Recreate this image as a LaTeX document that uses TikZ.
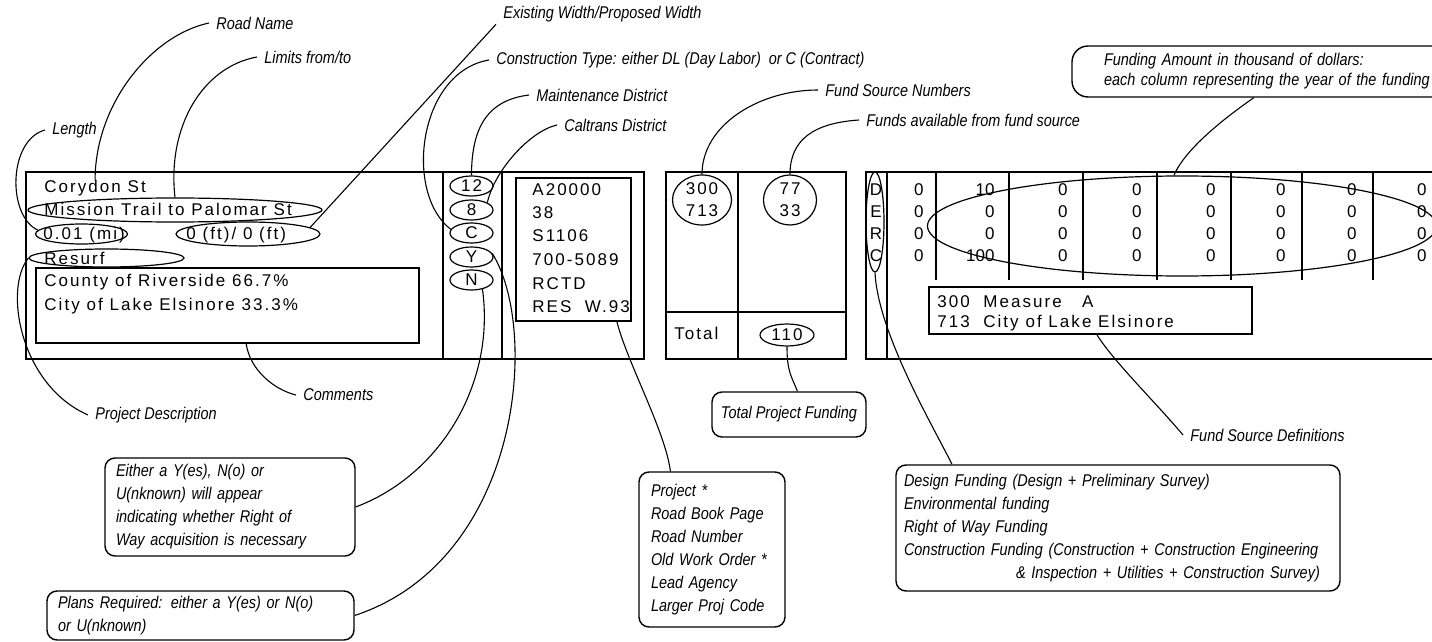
\documentclass[tikz,border=0pt]{standalone}
\usepackage{fontspec}
\setmainfont{Liberation Sans}
\newfontfamily\gridfont[LetterSpace=12]{Liberation Sans}
\newfontfamily\notefont[FakeStretch=0.85]{Liberation Sans}
\usepackage{tikz}
\usetikzlibrary{shapes.geometric}
\hyphenpenalty=10000
\exhyphenpenalty=10000

\tikzset{
  frame/.style={line width=0.75pt},
  leader/.style={line width=0.55pt},
  cell/.style={anchor=base west, inner sep=0pt, font=\gridfont\fontsize{8.5}{11}\selectfont},
  amount/.style={anchor=east, inner sep=0pt, font=\fontsize{8.5}{11}\selectfont},
  ring/.style={draw, ellipse, inner sep=0pt, line width=0.6pt, align=center, font=\gridfont\fontsize{8.5}{11}\selectfont},
  tag/.style={anchor=west, inner xsep=3.5pt, inner ysep=1pt, font=\notefont\itshape\fontsize{8.5}{10}\selectfont},
  note/.style={draw, rounded corners=5pt, line width=0.7pt, align=left, inner xsep=5.5pt, inner ysep=0pt, font=\notefont\itshape\fontsize{8.5}{11.5}\selectfont}
}

\begin{document}
\begin{tikzpicture}[x=0.5pt, y=-0.5pt]
\clip (0,0) rectangle (1432,642);

% Road record panel
\draw[frame] (26,172) rectangle (644,359);
\draw[frame] (443,172) -- (443,359) (502,172) -- (502,359);
\node[cell] (road) at (44,193) {Corydon St};
\node[cell] (limits) at (44,216) {Mission Trail to Palomar St};
\node[cell] (length) at (43,240) {0.01 (mi)};
\node[cell] (width) at (186,240) {0 (ft)/ 0 (ft)};
\node[cell] (desc) at (44,264) {Resurf};
\node[ring, minimum width=147pt, minimum height=12pt] (ring-limits) at (175,210) {};
\node[ring, minimum width=46pt, minimum height=10pt] (ring-length) at (81.5,234) {};
\node[ring, minimum width=72pt, minimum height=12pt] (ring-width) at (248,234) {};
\node[ring, minimum width=77.5pt, minimum height=9pt] (ring-desc) at (106.5,258) {};
% Comments box
\node[draw, frame, minimum width=191.5pt, minimum height=37.5pt, inner sep=0pt] (comments) at (227.5,305.5) {};
\node[cell] (share-a) at (44,286) {County of Riverside 66.7\%};
\node[cell] (share-b) at (44,310) {City of Lake Elsinore 33.3\%};

% District / type / right of way / plans column
\foreach \name/\val/\y in {12/12/186, 8/8/210, c/C/233, y/Y/257, n/N/280}
  \node[ring, minimum width=21.5pt, minimum height=10pt] (ring-\name) at (471.5,\y) {\val};

% Project numbers box
\node[draw, frame, minimum width=57.5pt, minimum height=71.5pt, inner sep=0pt] (ids) at (573.5,249.5) {};
\foreach \t/\y [count=\i] in {A20000/196, 38/219, S1106/242, 700-5089/266, RCTD/290, RES\ \ W.93/313}
  \node[cell] (id-\i) at (532,\y) {\t};

% Fund source panel
\draw[frame] (666,172) rectangle (846,359);
\draw[frame] (738,172) -- (738,359) (666,312) -- (846,312);
\node[ring, minimum width=29.5pt, minimum height=25pt] (ring-src) at (702,200) {300\\713};
\node[ring, minimum width=26.5pt, minimum height=25pt] (ring-avail) at (790,200) {77\\33};
\node[cell] (total) at (674,340) {Total};
\node[ring, minimum width=27pt, minimum height=11pt] (ring-total) at (787,335) {110};

% Yearly funding panel
\draw[frame] (1440,172) -- (866,172) -- (866,359) -- (1440,359);
\draw[frame] (887,172) -- (887,359);
\foreach \x in {936,1009,1083,1157,1231,1302,1373}
  \draw[frame] (\x,172) -- (\x,280);
\node[inner sep=0pt, align=center, font=\gridfont\fontsize{8.5}{11}\selectfont] (derc) at (876,223) {D\\E\\R\\C};
\node[ring, minimum width=9pt, minimum height=50pt] (ring-derc) at (875,222) {};
\foreach \x/\ra/\rb/\rc/\rd [count=\k] in {924/0/0/0/0, 995/10/0/0/100, 1068/0/0/0/0, 1142/0/0/0/0, 1216/0/0/0/0, 1286/0/0/0/0, 1357/0/0/0/0, 1427/0/0/0/0} {
  \node[amount] (yr\k-d) at (\x,190) {\ra};
  \node[amount] (yr\k-e) at (\x,212) {\rb};
  \node[amount] (yr\k-r) at (\x,234) {\rc};
  \node[amount] (yr\k-c) at (\x,256) {\rd};
}
\node[ring, minimum width=254.5pt, minimum height=50pt] (ring-years) at (1182,226) {};
\node[draw, frame, minimum width=161.5pt, minimum height=23.5pt, inner sep=0pt] (srcdefs) at (1090.5,310.5) {};
\node[cell] (src-a) at (937,307) {300\ \ Measure\ \ \ A};
\node[cell] (src-b) at (937,328) {713\ \ City of Lake Elsinore};

% Labels
\node[tag] (lbl-road) at (209,23) {Road Name};
\node[tag] (lbl-limits) at (257,57) {Limits from/to};
\node[tag] (lbl-length) at (45,130) {Length};
\node[tag] (lbl-width) at (496,14) {Existing Width/Proposed Width};
\node[tag] (lbl-type) at (489,60) {Construction Type: either DL (Day Labor)\ \ or C (Contract)};
\node[tag] (lbl-maint) at (529,95) {Maintenance District};
\node[tag] (lbl-caltrans) at (557,125) {Caltrans District};
\node[tag] (lbl-fundnum) at (818,90) {Fund Source Numbers};
\node[tag] (lbl-avail) at (859,120) {Funds available from fund source};
\node[tag] (lbl-comments) at (296,395) {Comments};
\node[tag] (lbl-desc) at (88,415) {Project Description};
\node[tag] (lbl-def) at (1183,435) {Fund Source Definitions};

% Callout boxes
\node[note, rounded corners=8pt, text width=180pt, inner xsep=16pt, minimum height=25.5pt, font=\notefont\itshape\fontsize{8.5}{10}\selectfont] (note-years) at (1284,71.5) {Funding Amount in thousand of dollars:\\each column representing the year of the funding};
\node[note, text width=114pt, minimum height=49pt] (note-row) at (230,507) {Either a Y(es), N(o) or\\U(nknown) will appear\\indicating whether Right of\\Way acquisition is necessary};
\node[note, text width=142.5pt, minimum height=24.5pt] (note-plans) at (200.5,615.5) {Plans Required: either a Y(es) or N(o)\\or U(nknown)};
\node[note, align=center, minimum width=77pt, minimum height=22.5pt, inner xsep=2pt] (note-total) at (789,414.5) {Total Project Funding};
\node[note, text width=61pt, inner xsep=6pt, minimum height=77.5pt] (note-ids) at (712,549.5) {Project *\\Road Book Page\\Road Number\\Old Work Order *\\Lead Agency\\Larger Proj Code};
\node[note, text width=214pt, inner xsep=4pt, minimum height=63pt] (note-funds) at (1118,528) {Design Funding (Design + Preliminary Survey)\\Environmental funding\\Right of Way Funding\\Construction Funding (Construction + Construction Engineering\\\hspace*{56pt}\& Inspection + Utilities + Construction Survey)};

% Leaders
\draw[leader] (lbl-road.west) .. controls +(-57,12) and +(0,-77) .. (road.north);
\draw[leader] (lbl-limits.west) .. controls +(-55,10) and +(-8,-70) .. (ring-limits.north);
\draw[leader] (lbl-length.west) .. controls +(-37,10) and +(-31,-14) .. (ring-length.175);
\draw[leader] (lbl-width.south west) -- (ring-width.6);
\draw[leader] (lbl-type.west) .. controls +(-71,12) and +(-47,-36) .. (ring-c.170);
\draw[leader] (lbl-maint.west) .. controls +(-40,5) and +(0,-50) .. (ring-12.north);
\draw[leader] (lbl-caltrans.west) .. controls +(-27,6) and +(7,-32) .. (ring-8.25);
\draw[leader] (lbl-fundnum.west) .. controls +(-58,0) and +(0,-50) .. (ring-src.north);
\draw[leader] (lbl-avail.west) .. controls +(-45,3) and +(0,-35) .. (ring-avail.north);
\draw[leader] (note-years.221) .. controls +(-26,18) and +(11,-27) .. (ring-years.99);
\draw[leader] (ring-total.south) .. controls +(0,25) and +(-6,-15) .. (note-total.70);
\draw[leader] (ring-n.320) .. controls +(13,94) and +(85,-32) .. (note-row.east);
\draw[leader] (ring-y.10) .. controls +(48,77) and +(166,-55) .. (note-plans.east);
\draw[leader] (ids.-59) .. controls +(10,40) and +(-5,-40) .. (note-ids.118);
\draw[leader] (ring-derc.south) .. controls +(3,60) and +(-20,-40) .. (note-funds.159);
\draw[leader] (lbl-def.west) .. controls +(-25,-30) and +(15,25) .. (srcdefs.-75);
\draw[leader] (lbl-comments.west) .. controls +(-21,-5) and +(4,27) .. (comments.-64);
\draw[leader] (lbl-desc.west) .. controls +(-68,-30) and +(-25,31) .. (ring-desc.west);
\end{tikzpicture}
\end{document}
